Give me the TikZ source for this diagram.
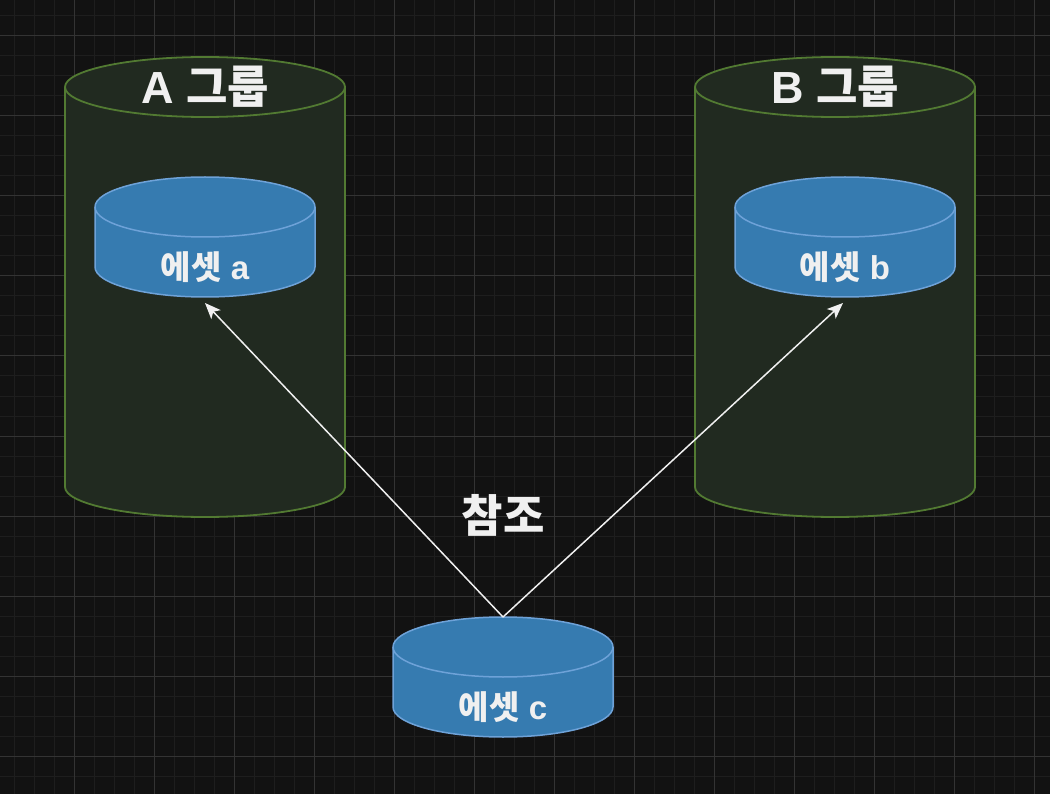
\documentclass[tikz,border=0pt]{standalone}
\usepackage{fontspec}
\setmainfont{Liberation Sans}
\newfontfamily\kr{Noto Sans CJK KR}
\usetikzlibrary{arrows.meta}
\definecolor{bg}{HTML}{121212}
\definecolor{gridminor}{HTML}{1E1E1E}
\definecolor{gridmajor}{HTML}{333333}
\definecolor{grpfill}{HTML}{212A20}
\definecolor{grpline}{HTML}{527A32}
\definecolor{assetfill}{HTML}{367BB0}
\definecolor{assetline}{HTML}{6EA2D8}
\definecolor{txt}{HTML}{F0F0F0}
\tikzset{
  minorgrid/.style={draw=gridminor,line width=1pt},
  majorgrid/.style={draw=gridmajor,line width=1pt},
  grpdrum/.style={fill=grpfill,draw=grpline,line width=1.8pt},
  assetdrum/.style={fill=assetfill,draw=assetline,line width=1.5pt},
  bigtext/.style={text=txt,font=\bfseries\fontsize{45}{50}\selectfont,inner sep=0pt},
  assettext/.style={text=txt,font=\bfseries\fontsize{33}{38}\selectfont,inner sep=0pt},
  refarrow/.style={draw=txt,line width=1.5pt,-{Stealth[length=16pt,width=13pt,inset=4pt]}}
}
\newcommand\drum[6]{%
  \filldraw[#6] (#1,-#2) -- (#1,-#4) arc[start angle=180,end angle=360,x radius=#5,y radius=30]
    -- (#3,-#2) arc[start angle=0,end angle=180,x radius=#5,y radius=30] -- cycle;
  \draw[#6,fill=none] (#1,-#2) arc[start angle=180,end angle=360,x radius=#5,y radius=30];
}
\begin{document}
\begin{tikzpicture}[x=1pt,y=1pt]
\fill[bg] (0,0) rectangle (1050,-794);
\useasboundingbox (0,0) rectangle (1050,-794);
\foreach \x in {14,34,...,1050} \draw[minorgrid] (\x,0) -- (\x,-794);
\foreach \y in {16,36,...,794} \draw[minorgrid] (0,-\y) -- (1050,-\y);
\foreach \x in {74,154,...,1050} \draw[majorgrid] (\x,0) -- (\x,-794);
\foreach \y in {36,116,...,794} \draw[majorgrid] (0,-\y) -- (1050,-\y);

\drum{65}{87}{345}{487}{140}{grpdrum}
\drum{695}{87}{975}{487}{140}{grpdrum}
\drum{95}{207}{315}{267}{110}{assetdrum}
\drum{735}{207}{955}{267}{110}{assetdrum}
\drum{393}{647}{613}{707}{110}{assetdrum}

\node[bigtext] (grpA) at (205,-87) {A {\kr 그룹}};
\node[bigtext] (grpB) at (835,-87) {B {\kr 그룹}};
\node[assettext] (assetA) at (205,-267) {{\kr 에셋} a};
\node[assettext] (assetB) at (845,-267) {{\kr 에셋} b};
\node[assettext] (assetC) at (503,-707) {{\kr 에셋} c};
\node[bigtext] (refLabel) at (503,-515) {\kr 참조};

\coordinate (cTop) at (503,-617);
\coordinate (aTip) at (205,-303);
\coordinate (bTip) at (843,-303);
\draw[refarrow] (cTop) -- (aTip);
\draw[refarrow] (cTop) -- (bTip);
\end{tikzpicture}
\end{document}
